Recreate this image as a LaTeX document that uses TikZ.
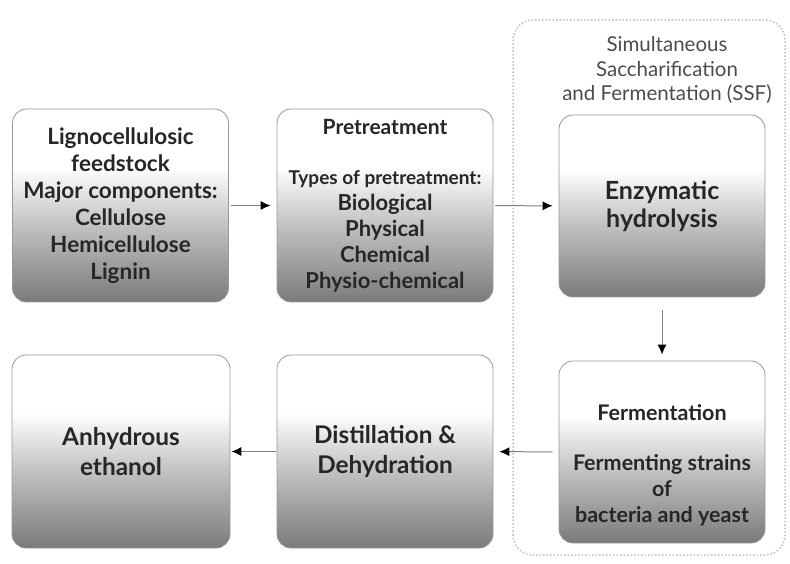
\documentclass[tikz,border=0pt]{standalone}
\usepackage{fontspec}
\setmainfont{Lato}
\usetikzlibrary{arrows.meta}
\pgfdeclareverticalshading{boxshade}{100bp}{color(0bp)=(black!52); color(25bp)=(black!52); color(45bp)=(black!24); color(60bp)=(white); color(100bp)=(white)}
\begin{document}
\begin{tikzpicture}[x=1pt, y=1pt, >={Latex[length=10pt,width=9pt,black]},
  box node/.style={rectangle, rounded corners=14pt, draw=gray!80, line width=0.8pt, shading=boxshade, text=black!85, font=\bfseries\fontsize{22.5}{27}\selectfont, align=center, inner sep=0pt, minimum width=216pt, minimum height=193pt},
  link/.style={->, draw=gray, line width=1pt, shorten >=6pt}]
\useasboundingbox (0,0) rectangle (790,563);
% SSF region
\draw[gray!50, dotted, line width=1.5pt, rounded corners=20pt] (513,8) rectangle (785,543);
\node[text=black!70, align=center, font=\fontsize{20.5}{24.5}\selectfont] (ssf) at (667,493) {Simultaneous\\Saccharification\\and Fermentation (SSF)};
\begin{scope}
\node[box node] (feed) at (120.5,357.5) {Lignocellulosic\\feedstock\\Major components:\\Cellulose\\Hemicellulose\\Lignin};
\node[box node, font=\bfseries\fontsize{22}{26}\selectfont] (pre) at (385,357.5) {{\fontsize{21}{26}\selectfont Pretreatment}\\[24pt]{\fontsize{19}{24}\selectfont Types of pretreatment:}\\Biological\\Physical\\Chemical\\Physio-chemical};
\node[box node, minimum width=206pt, minimum height=182pt, font=\bfseries\fontsize{25}{28}\selectfont] (enz) at (662,357) {Enzymatic\\hydrolysis};
\node[box node, minimum width=206pt, minimum height=182pt, font=\bfseries\fontsize{21.5}{26}\selectfont] (fer) at (662,111) {\mbox{}\\[16pt]Fermentation\\[24pt]Fermenting strains\\of\\bacteria and yeast};
\node[box node, minimum width=218pt, font=\bfseries\fontsize{24.4}{30}\selectfont] (anh) at (121,111.5) {Anhydrous\\ethanol};
\node[box node, font=\bfseries\fontsize{24.3}{29}\selectfont] (dist) at (385,111.5) {Distillation \&\\Dehydration};
\end{scope}
\begin{scope}
\draw[link, shorten <=2pt] (feed) -- (pre);
\draw[link, shorten <=2pt] (pre) -- (enz);
\draw[link, shorten <=13pt] (enz) -- (fer);
\draw[link, shorten <=6pt] (fer) -- (dist);
\draw[link, shorten <=1pt, shorten >=1pt] (dist) -- (anh);
\end{scope}
\end{tikzpicture}
\end{document}
